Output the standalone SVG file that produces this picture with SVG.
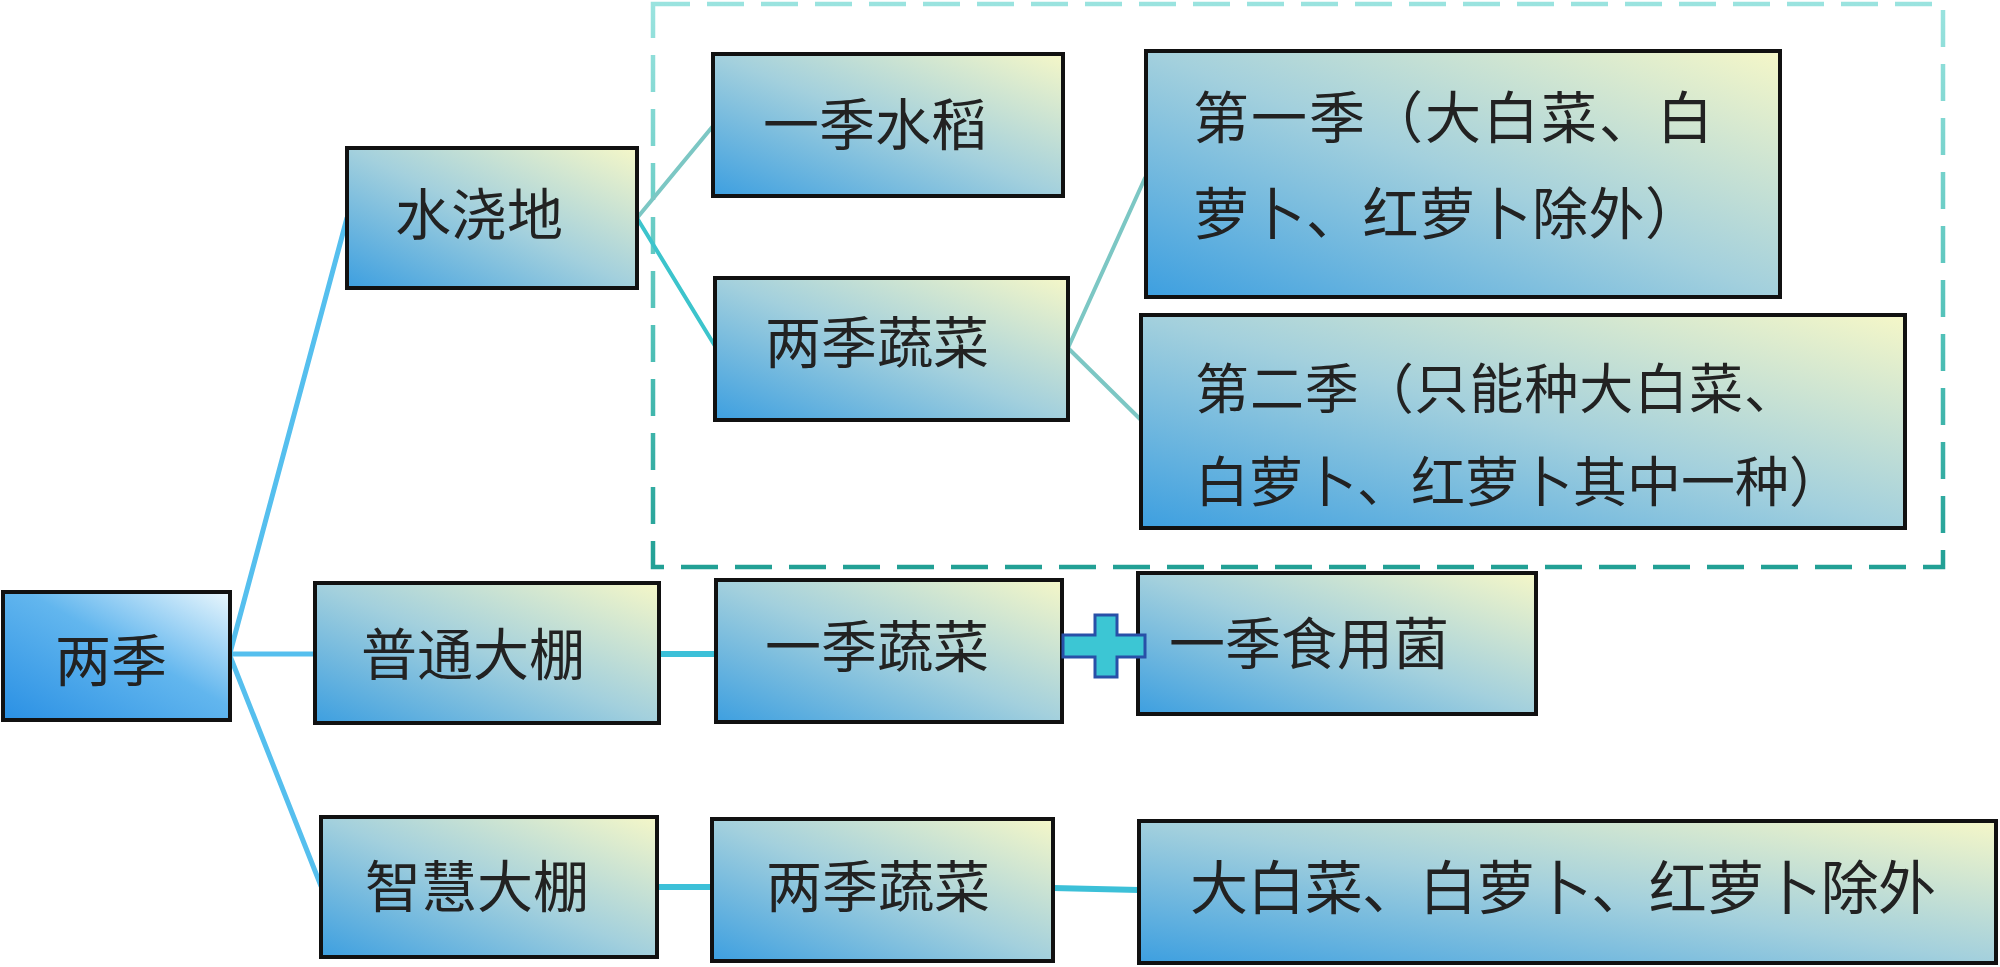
<svg xmlns="http://www.w3.org/2000/svg" width="2000" height="967" viewBox="0 0 2000 967">
<defs>
<linearGradient id="boxg" x1="0" y1="1" x2="1" y2="0">
<stop offset="0" stop-color="#3d9fe0"/>
<stop offset="0.5" stop-color="#a3d0dd"/>
<stop offset="1" stop-color="#f5f7c8"/>
</linearGradient>
<linearGradient id="rootg" x1="0" y1="1" x2="1" y2="0">
<stop offset="0" stop-color="#2a90e4"/>
<stop offset="0.55" stop-color="#62b6ee"/>
<stop offset="1" stop-color="#eaf7fd"/>
</linearGradient>
<linearGradient id="dashg" gradientUnits="userSpaceOnUse" x1="0" y1="4" x2="0" y2="567">
<stop offset="0" stop-color="#9ae3df"/>
<stop offset="0.6" stop-color="#4fc0b7"/>
<stop offset="1" stop-color="#22a095"/>
</linearGradient>
</defs>
<style>
.box{fill:url(#boxg);stroke:#111;stroke-width:4}
.root{fill:url(#rootg);stroke:#111;stroke-width:4}
.t{font-family:"Noto Sans CJK SC","Noto Sans CJK TC",sans-serif;font-size:56px;fill:#222}
.c1{stroke:#55bfee;stroke-width:5;fill:none;stroke-linecap:round}
.c2{stroke:#3cc4cc;stroke-width:4;fill:none;stroke-linecap:round}
.c3{stroke:#7cc7c4;stroke-width:4;fill:none;stroke-linecap:round}
.c4{stroke:#3cc0d8;stroke-width:6;fill:none}
</style>
<rect x="0" y="0" width="2000" height="967" fill="#fff"/>
<g id="group-frame">
<rect x="653" y="4" width="1290" height="563" fill="none" stroke="url(#dashg)" stroke-width="4.5" stroke-dasharray="37 17"/>
</g>
<g id="connectors">
<line class="c1" x1="230" y1="653" x2="347" y2="218"/>
<line class="c1" x1="230" y1="654" x2="315" y2="654"/>
<line class="c1" x1="230" y1="656" x2="321" y2="886"/>
<line class="c3" x1="637" y1="218" x2="713" y2="126"/>
<line class="c2" x1="637" y1="218" x2="715" y2="346"/>
<line class="c3" x1="1068" y1="348" x2="1145" y2="178"/>
<line class="c3" x1="1068" y1="348" x2="1141" y2="420"/>
<line class="c4" x1="659" y1="654" x2="716" y2="654"/>
<line class="c4" x1="657" y1="887" x2="713" y2="887"/>
<line class="c4" x1="1053" y1="888" x2="1139" y2="890"/>
</g>
<g id="n-liangji">
<rect class="root" x="3" y="592" width="227" height="128"/>
<text class="t" x="55" y="681">两季</text>
</g>
<g id="n-shuijiaodi">
<rect class="box" x="347" y="148" width="290" height="140"/>
<text class="t" x="395" y="235">水浇地</text>
</g>
<g id="n-yijishuidao">
<rect class="box" x="713" y="54" width="350" height="142"/>
<text class="t" x="763" y="145">一季水稻</text>
</g>
<g id="n-liangjishucai-1">
<rect class="box" x="715" y="278" width="353" height="142"/>
<text class="t" x="765" y="363">两季蔬菜</text>
</g>
<g id="n-diyiji">
<rect class="box" x="1146" y="51" width="634" height="246"/>
<text class="t" x="1193" y="138" textLength="520" lengthAdjust="spacing">第一季（大白菜、白</text>
<text class="t" x="1193" y="234" textLength="508" lengthAdjust="spacing">萝卜、红萝卜除外）</text>
</g>
<g id="n-dierji">
<rect class="box" x="1141" y="315" width="764" height="213"/>
<text class="t" x="1195" y="409" style="font-size:54px" textLength="603" lengthAdjust="spacing">第二季（只能种大白菜、</text>
<text class="t" x="1195" y="502" style="font-size:54px" textLength="648" lengthAdjust="spacing">白萝卜、红萝卜其中一种）</text>
</g>
<g id="n-putongdapeng">
<rect class="box" x="315" y="583" width="344" height="140"/>
<text class="t" x="361" y="675">普通大棚</text>
</g>
<g id="n-yijishucai">
<rect class="box" x="716" y="580" width="346" height="142"/>
<text class="t" x="765" y="667">一季蔬菜</text>
</g>
<g id="n-yijishiyongjun">
<rect class="box" x="1138" y="573" width="398" height="141"/>
<text class="t" x="1169" y="664">一季食用菌</text>
</g>
<g id="n-zhihuidapeng">
<rect class="box" x="321" y="817" width="336" height="140"/>
<text class="t" x="365" y="907">智慧大棚</text>
</g>
<g id="n-liangjishucai-2">
<rect class="box" x="712" y="819" width="341" height="142"/>
<text class="t" x="766" y="907">两季蔬菜</text>
</g>
<g id="n-dabaicai">
<rect class="box" x="1139" y="821" width="857" height="142"/>
<text class="t" x="1190" y="909" style="font-size:58px" textLength="746" lengthAdjust="spacing">大白菜、白萝卜、红萝卜除外</text>
</g>
<g id="plus">
<path d="M1063,635 H1095 V615 H1117 V635 H1145 V657 H1117 V677 H1095 V657 H1063 Z" fill="#3cc6d4" stroke="#2850a8" stroke-width="3"/>
</g>
</svg>
